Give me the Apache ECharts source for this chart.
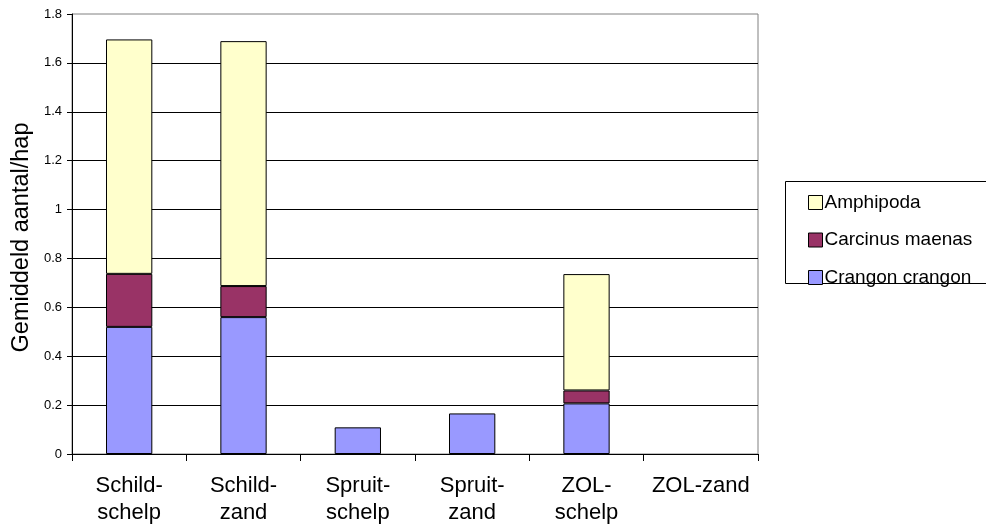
<!DOCTYPE html>
<html>
<head>
<meta charset="utf-8">
<script src="https://cdn.jsdelivr.net/npm/echarts@6/dist/echarts.min.js"></script>
<style>html,body{margin:0;padding:0;background:#fff;}#c{width:986px;height:530px;}</style>
</head>
<body>
<div id="c"></div>
<script>
var categories = ['Schild-\nschelp', 'Schild-\nzand', 'Spruit-\nschelp', 'Spruit-\nzand', 'ZOL-\nschelp', 'ZOL-zand'];
var crangon = [0.52, 0.56, 0.109, 0.166, 0.207, 0];
var carcinus = [0.217, 0.127, 0, 0, 0.053, 0];
var amphipoda = [0.959, 1.002, 0, 0, 0.476, 0];
var seriesNames = ['Crangon crangon', 'Carcinus maenas', 'Amphipoda'];
var legendOrder = ['Amphipoda', 'Carcinus maenas', 'Crangon crangon'];

var font = 'Arial, "Liberation Sans", sans-serif';
var chart = echarts.init(document.getElementById('c'), null, {renderer: 'canvas'});
function bar(name, data, color) {
  return {
    name: name, type: 'bar', stack: 'a',
    data: data.map(function (v) { return v === 0 ? '-' : v; }),
    barWidth: '40.5%',
    itemStyle: {color: color, borderColor: '#000', borderWidth: 1},
    emphasis: {disabled: true}
  };
}
chart.setOption({
  animation: false,
  textStyle: {fontFamily: font},
  grid: {left: 72, right: 228, top: 14, bottom: 76, show: true, borderColor: '#808080', borderWidth: 1, containLabel: false, outerBoundsMode: 'none'},
  legend: {
    orient: 'vertical', left: 803, top: 188,
    data: legendOrder, icon: 'rect',
    itemWidth: 14, itemHeight: 14, itemGap: 18.5,
    textStyle: {fontSize: 19, color: '#000', fontFamily: font, padding: [0, 0, 0, -3]},
    itemStyle: {borderColor: '#000', borderWidth: 1}
  },
  graphic: [{
    type: 'rect', shape: {x: 785.5, y: 181.5, width: 210, height: 102},
    style: {fill: 'none', stroke: '#000', lineWidth: 1}, silent: true, z: -1
  }],
  xAxis: {
    type: 'category', data: categories,
    axisLine: {lineStyle: {color: '#000', width: 1}},
    axisTick: {show: true, alignWithLabel: false, interval: 0, length: 7, lineStyle: {color: '#000'}},
    axisLabel: {interval: 0, fontSize: 22, color: '#000', lineHeight: 27, margin: 18, fontFamily: font}
  },
  yAxis: {
    type: 'value', min: 0, max: 1.8, interval: 0.2,
    name: 'Gemiddeld aantal/hap', nameLocation: 'middle', nameGap: 36,
    nameTextStyle: {fontSize: 23.5, color: '#000', fontFamily: font, padding: [0, 7, 0, 0]},
    axisLine: {show: true, lineStyle: {color: '#000', width: 1}},
    axisTick: {show: true, length: 5, lineStyle: {color: '#000'}},
    axisLabel: {fontSize: 13, color: '#000', margin: 10, fontFamily: font},
    splitLine: {show: true, showMaxLine: false, lineStyle: {color: '#000', width: 1}}
  },
  series: [
    bar(seriesNames[0], crangon, '#9999FF'),
    bar(seriesNames[1], carcinus, '#993366'),
    bar(seriesNames[2], amphipoda, '#FFFFCC')
  ]
});
</script>
</body>
</html>
